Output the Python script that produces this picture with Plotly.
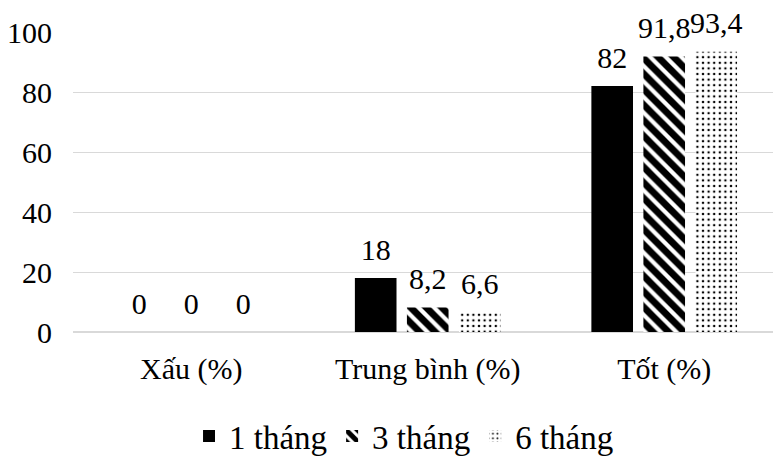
import plotly.graph_objects as go

# Survey results by category after 1, 3 and 6 months
categories = ["Xấu (%)", "Trung bình (%)", "Tốt (%)"]
series_names = ["1 tháng", "3 tháng", "6 tháng"]
values_1m = [0, 18, 82]
values_3m = [0, 8.2, 91.8]
values_6m = [0, 6.6, 93.4]
y_ticks = [0, 20, 40, 60, 80, 100]

FONT = "Liberation Serif"
SIZE = 30


def fmt(v):
    return f"{v:g}".replace(".", ",")


patterns = [
    dict(shape="", fgcolor="black", bgcolor="black"),
    dict(shape="\\", fgcolor="black", bgcolor="white", fgopacity=1,
         size=11, solidity=0.62),
    dict(shape=".", fgcolor="black", bgcolor="white", fgopacity=1,
         size=5.6, solidity=0.15),
]

all_values = [values_1m, values_3m, values_6m]

fig = go.Figure()
for name, vals, pat in zip(series_names, all_values, patterns):
    fig.add_trace(go.Bar(
        x=categories,
        y=vals,
        name=name,
        marker=dict(color="black", pattern=pat, line=dict(width=0)),
        hoverinfo="skip",
    ))

# Value labels, grouped the same way as the bars so they sit over them
for name, vals in zip(series_names, all_values):
    fig.add_trace(go.Scatter(
        x=categories,
        y=vals,
        mode="markers+text",
        text=[fmt(v) for v in vals],
        textposition="top center",
        textfont=dict(family=FONT, size=SIZE, color="black"),
        marker=dict(size=16, color="rgba(0,0,0,0)"),
        cliponaxis=False,
        showlegend=False,
        hoverinfo="skip",
    ))

fig.update_layout(
    width=774,
    height=459,
    margin=dict(l=73, r=1, t=32, b=127),
    paper_bgcolor="white",
    plot_bgcolor="white",
    barmode="group",
    bargap=0.34,
    bargroupgap=0.2,
    scattermode="group",
    scattergap=0.34,
    font=dict(family=FONT, size=SIZE, color="black"),
    showlegend=True,
    legend=dict(
        orientation="h",
        xref="container",
        yref="container",
        x=0.522,
        y=0.05,
        xanchor="center",
        yanchor="middle",
        font=dict(family=FONT, size=33, color="black"),
        itemwidth=30,
    ),
)
fig.update_xaxes(
    range=[-0.5, 2.46],
    showgrid=False,
    showline=False,
    ticks="",
    ticklabelstandoff=16,
    tickfont=dict(family=FONT, size=SIZE),
)
fig.update_yaxes(
    range=[0, 100],
    tickvals=y_ticks,
    showgrid=True,
    gridcolor="#d9d9d9",
    gridwidth=1.3,
    zeroline=True,
    zerolinecolor="#d9d9d9",
    zerolinewidth=1.6,
    showline=False,
    ticks="",
    ticklabelstandoff=20,
    tickfont=dict(family=FONT, size=SIZE),
)

fig.write_html("out.html")
